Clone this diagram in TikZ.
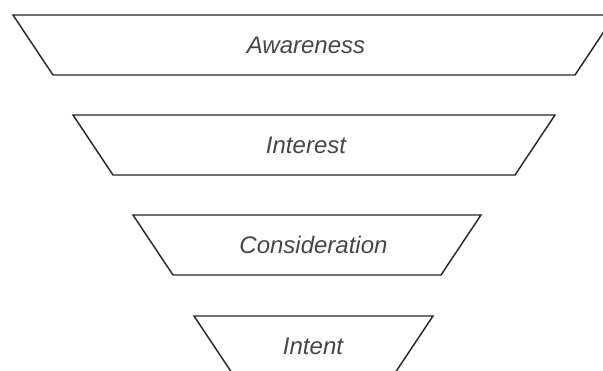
\documentclass[tikz,border=0pt]{standalone}
\usepackage{fontspec}
\setmainfont{Liberation Sans}
\colorlet{StageBorder}{black!85}
\colorlet{StageText}{black!72}

\begin{document}
\begin{tikzpicture}[x=1pt, y=-1pt,
    stage/.style = {draw = StageBorder, line width = 1.4pt, fill = white},
    stagelabel/.style = {text = StageText, font = \fontsize{24}{28}\selectfont\itshape}]

\useasboundingbox (0, 0) rectangle (603, 371);
\clip (0, 0) rectangle (603, 371);

% Awareness
\coordinate (A1) at (13, 15);
\coordinate (B1) at (615, 15);
\coordinate (C1) at (575, 75);
\coordinate (D1) at (53, 75);
\draw[stage] (A1) -- (B1) -- (C1) -- (D1) -- cycle;
\node[stagelabel] (aware) at (306, 45) {Awareness};

% Interest
\coordinate (A2) at (73, 115);
\coordinate (B2) at (555, 115);
\coordinate (C2) at (515, 175);
\coordinate (D2) at (113, 175);
\draw[stage] (A2) -- (B2) -- (C2) -- (D2) -- cycle;
\node[stagelabel] (interest) at (306, 145) {Interest};

% Consideration
\coordinate (A3) at (133, 215);
\coordinate (B3) at (481, 215);
\coordinate (C3) at (441, 275);
\coordinate (D3) at (173, 275);
\draw[stage] (A3) -- (B3) -- (C3) -- (D3) -- cycle;
\node[stagelabel] (consid) at (313.5, 245) {Consideration};

% Intent
\coordinate (A4) at (194, 316);
\coordinate (B4) at (433, 316);
\coordinate (C4) at (393, 376);
\coordinate (D4) at (234, 376);
\draw[stage] (A4) -- (B4) -- (C4) -- (D4) -- cycle;
\node[stagelabel] (intent) at (313, 346) {Intent};

\end{tikzpicture}
\end{document}
